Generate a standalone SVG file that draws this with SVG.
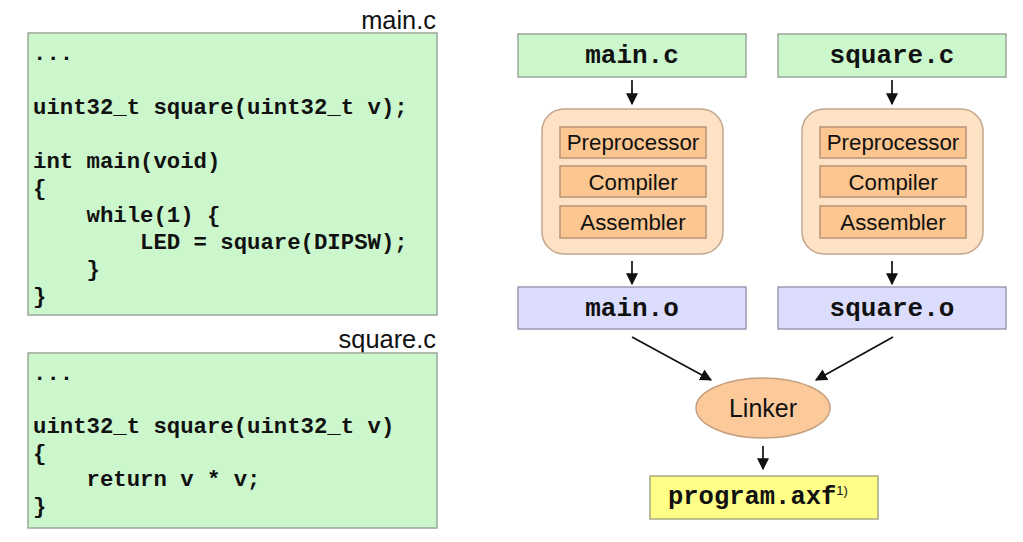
<svg xmlns="http://www.w3.org/2000/svg" width="1023" height="542" viewBox="0 0 1023 542">
<style>
.code{fill:#ccf7cc;stroke:#9aa89a;stroke-width:1.5}
.mono{font-family:"Liberation Mono","Courier New",monospace;font-weight:bold;fill:#111}
.sans{font-family:"Liberation Sans",Arial,sans-serif;fill:#111}
.src{fill:#ccf7cc;stroke:#9aa89a;stroke-width:1.5}
.obj{fill:#dcdcfc;stroke:#9a9ab4;stroke-width:1.5}
.cluster{fill:#fde2c6;stroke:#c4a68c;stroke-width:1.5}
.stage{fill:#fcc690;stroke:#b89474;stroke-width:1.5}
.link{fill:#fcc99a;stroke:#c4a080;stroke-width:1.5}
.out{fill:#ffff88;stroke:#a8a880;stroke-width:1.5}
.edge{stroke:#111;stroke-width:1.7;fill:none;marker-end:url(#ah)}
</style>
<defs>
<marker id="ah" viewBox="0 0 10 10" refX="9" refY="5" markerWidth="12" markerHeight="12" markerUnits="userSpaceOnUse" orient="auto">
<path d="M0,0 L10,5 L0,10 z" fill="#111"/>
</marker>
</defs>
<rect width="1023" height="542" fill="#fff"/>

<g id="code-main">
<text class="sans" x="436" y="29" font-size="25.4" text-anchor="end">main.c</text>
<rect class="code" x="28" y="33" width="409" height="282"/>
<text class="mono" font-size="22.3" xml:space="preserve"><tspan x="33" y="60">...</tspan><tspan x="33" y="114">uint32_t square(uint32_t v);</tspan><tspan x="33" y="168">int main(void)</tspan><tspan x="33" y="195">{</tspan><tspan x="33" y="222">    while(1) {</tspan><tspan x="33" y="249">        LED = square(DIPSW);</tspan><tspan x="33" y="276">    }</tspan><tspan x="33" y="303">}</tspan></text>
</g>

<g id="code-square">
<text class="sans" x="436" y="348" font-size="25.4" text-anchor="end">square.c</text>
<rect class="code" x="28" y="353" width="409" height="175"/>
<text class="mono" font-size="22.3" xml:space="preserve"><tspan x="33" y="380">...</tspan><tspan x="33" y="433">uint32_t square(uint32_t v)</tspan><tspan x="33" y="460">{</tspan><tspan x="33" y="486">    return v * v;</tspan><tspan x="33" y="513">}</tspan></text>
</g>

<g id="src-main">
<rect class="src" x="518" y="34" width="228" height="43"/>
<text class="mono" x="632" y="63" font-size="26" text-anchor="middle">main.c</text>
</g>
<g id="src-square">
<rect class="src" x="778" y="34" width="228" height="43"/>
<text class="mono" x="892" y="63" font-size="26" text-anchor="middle">square.c</text>
</g>

<g id="toolchain-main">
<rect class="cluster" x="542" y="109" width="181" height="145" rx="22"/>
<rect class="stage" x="560" y="127" width="146" height="31"/>
<text class="sans" x="633" y="150" font-size="22.3" text-anchor="middle">Preprocessor</text>
<rect class="stage" x="560" y="166" width="146" height="31"/>
<text class="sans" x="633" y="190" font-size="22.3" text-anchor="middle">Compiler</text>
<rect class="stage" x="560" y="206" width="146" height="32"/>
<text class="sans" x="633" y="230" font-size="22.3" text-anchor="middle">Assembler</text>
</g>
<g id="toolchain-square">
<rect class="cluster" x="802" y="109" width="181" height="145" rx="22"/>
<rect class="stage" x="820" y="127" width="146" height="31"/>
<text class="sans" x="893" y="150" font-size="22.3" text-anchor="middle">Preprocessor</text>
<rect class="stage" x="820" y="166" width="146" height="31"/>
<text class="sans" x="893" y="190" font-size="22.3" text-anchor="middle">Compiler</text>
<rect class="stage" x="820" y="206" width="146" height="32"/>
<text class="sans" x="893" y="230" font-size="22.3" text-anchor="middle">Assembler</text>
</g>

<g id="obj-main">
<rect class="obj" x="518" y="287" width="228" height="42"/>
<text class="mono" x="632" y="316" font-size="26" text-anchor="middle">main.o</text>
</g>
<g id="obj-square">
<rect class="obj" x="778" y="287" width="228" height="42"/>
<text class="mono" x="892" y="316" font-size="26" text-anchor="middle">square.o</text>
</g>

<g id="linker">
<ellipse class="link" cx="763" cy="408" rx="67" ry="30"/>
<text class="sans" x="763" y="417" font-size="25" text-anchor="middle">Linker</text>
</g>

<g id="program">
<rect class="out" x="650" y="476" width="228" height="43"/>
<text class="mono" x="668" y="504" font-size="25.5">program.axf<tspan class="sans" font-weight="normal" font-size="13" dy="-9">1)</tspan></text>
</g>

<g id="connectors">
<line class="edge" x1="632" y1="80" x2="632" y2="104"/>
<line class="edge" x1="892" y1="80" x2="892" y2="104"/>
<line class="edge" x1="632" y1="261" x2="632" y2="284"/>
<line class="edge" x1="892" y1="261" x2="892" y2="284"/>
<line class="edge" x1="632" y1="337" x2="711" y2="380"/>
<line class="edge" x1="893" y1="337" x2="816" y2="380"/>
<line class="edge" x1="763" y1="446" x2="763" y2="469"/>
</g>
</svg>
